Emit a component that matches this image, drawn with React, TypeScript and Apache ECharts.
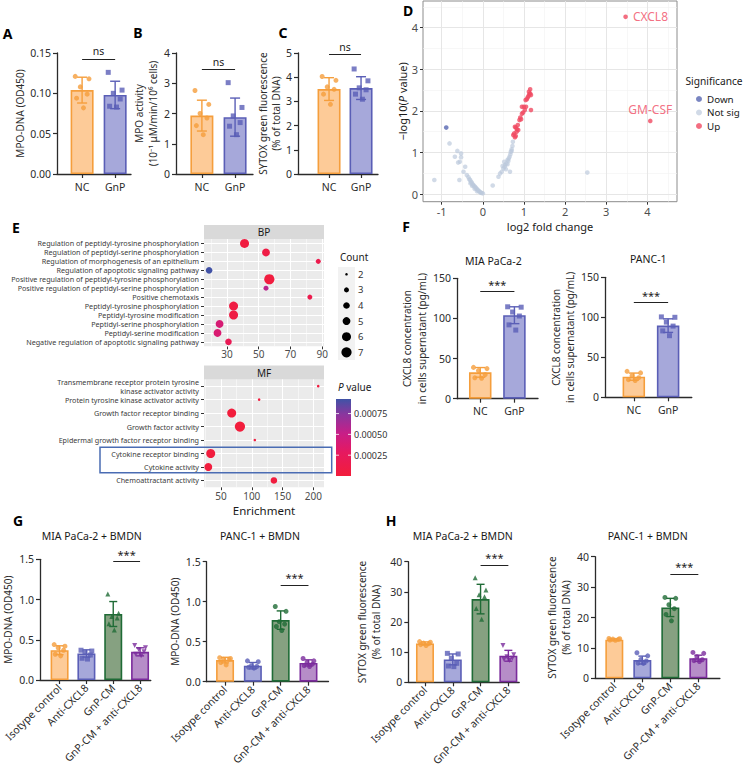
import React, { useEffect, useRef } from "react";
import * as echarts from "echarts";

const FONT = "'Noto Sans', 'Open Sans', 'DejaVu Sans', sans-serif";
const AXIS = "#2b2b2b";
const TXT = "#2b2b2b";

// ---------------- Panels A–C ----------------
const NC_GNP = ["NC", "GnP"];
const A_MEAN = [0.104, 0.098];
const A_SD = [0.016, 0.017];
const A_NC = [0.121, 0.118, 0.108, 0.099, 0.094, 0.082];
const A_GNP = [0.126, 0.104, 0.1, 0.093, 0.084, 0.083];

const B_MEAN = [1.93, 1.88];
const B_SD = [0.51, 0.63];
const B_NC = [2.76, 2.3, 2.0, 1.85, 1.6, 1.3];
const B_GNP = [3.02, 2.2, 1.92, 1.7, 1.58, 1.3];

const C_MEAN = [3.51, 3.55];
const C_SD = [0.47, 0.47];
const C_NC = [4.03, 3.87, 3.6, 3.5, 3.3, 2.88];
const C_GNP = [4.34, 3.85, 3.56, 3.48, 3.3, 3.09];

// ---------------- Panel D (volcano) ----------------
const VOLC_X_TICKS = [-1, 0, 1, 2, 3, 4];
const VOLC_Y_TICKS = [0, 1, 2, 3, 4];
const VOLC_X_MINOR = [-0.5, 0.5, 1.5, 2.5, 3.5, 4.5];
const VOLC_Y_MINOR = [0.5, 1.5, 2.5, 3.5, 4.5];
const DOWN_PTS = [[-0.89, 1.6]];
const NOT_SIG_PTS = [
  [-1.18, 0.34], [-0.81, 1.22], [-0.62, 1.04], [-0.53, 0.98], [-0.68, 0.9], [-0.53, 0.89],
  [-0.56, 0.78], [-0.6, 0.76], [-0.43, 0.66], [-0.47, 0.54], [-0.57, 0.34], [-0.39, 0.46],
  [-0.35, 0.41], [-0.33, 0.36], [-0.31, 0.34], [-0.29, 0.3], [-0.27, 0.28], [-0.25, 0.24],
  [-0.23, 0.22], [-0.21, 0.19], [-0.19, 0.18], [-0.17, 0.15], [-0.15, 0.13], [-0.13, 0.11],
  [-0.11, 0.09], [-0.09, 0.07], [-0.07, 0.05], [-0.05, 0.04], [-0.03, 0.03], [0.0, 0.02],
  [-0.3, 0.26], [-0.26, 0.2], [-0.2, 0.13], [-0.14, 0.07],
  [0.24, 0.21], [0.38, 0.42], [0.42, 0.5], [0.46, 0.54], [0.5, 0.62], [0.53, 0.66],
  [0.54, 0.7], [0.57, 0.74], [0.6, 0.82], [0.62, 0.8], [0.63, 0.86], [0.65, 0.9],
  [0.67, 0.96], [0.68, 1.02], [0.7, 1.04], [0.7, 1.08], [0.72, 1.16], [0.73, 1.26],
  [0.66, 0.54], [0.56, 0.6], [0.48, 0.68], [0.6, 0.72], [0.52, 0.78], [2.54, 0.52]
];
const UP_PTS = [
  [0.74, 1.42], [0.76, 1.46], [0.78, 1.37], [0.8, 1.4], [0.82, 1.5], [0.78, 1.62],
  [0.8, 1.6], [0.83, 1.56], [0.86, 1.54], [0.85, 1.66], [0.89, 1.78], [0.91, 1.84],
  [0.93, 1.8], [0.95, 1.93], [0.98, 1.96], [0.95, 2.1], [1.0, 2.1], [1.02, 2.02],
  [1.05, 2.1], [1.04, 2.26], [1.07, 2.28], [1.09, 2.32], [1.11, 2.36], [1.13, 2.4],
  [1.15, 2.42], [1.12, 2.46], [1.15, 2.52], [1.17, 2.38], [1.17, 2.02]
];
const LABELLED_GENES = ["CXCL8", "GM-CSF"];
const LABELLED_PTS = [[3.47, 4.26], [4.07, 1.76]];

// ---------------- Panel E (GO enrichment) ----------------
const BP_TERMS = [
  "Regulation of peptidyl-tyrosine phosphorylation",
  "Regulation of peptidyl-serine phosphorylation",
  "Regulation of morphogenesis of an epithelium",
  "Regulation of apoptotic signaling pathway",
  "Positive regulation of peptidyl-tyrosine phosphorylation",
  "Positive regulation of peptidyl-serine phosphorylation",
  "Positive chemotaxis",
  "Peptidyl-tyrosine phosphorylation",
  "Peptidyl-tyrosine modification",
  "Peptidyl-serine phosphorylation",
  "Peptidyl-serine modification",
  "Negative regulation of apoptotic signaling pathway"
];
const BP_ENRICH = [41.1, 54.6, 87.5, 18.8, 56.7, 54.6, 82.2, 34.2, 34.2, 25.4, 24.1, 31.0];
const BP_P = [0.00004, 0.00008, 0.00014, 0.00092, 0.00003, 0.00056, 0.00014, 0.00006, 0.00007, 0.0004, 0.00038, 0.0002];
const BP_COUNT = [6, 5, 3, 4, 7, 3, 3, 6, 6, 5, 5, 4];
const BP_X_TICKS = [30, 50, 70, 90];
const BP_X_MINOR = [20, 40, 60, 80];

const MF_TERMS = [
  "Transmembrane receptor protein tyrosine\nkinase activator activity",
  "Protein tyrosine kinase activator activity",
  "Growth factor receptor binding",
  "Growth factor activity",
  "Epidermal growth factor receptor binding",
  "Cytokine receptor binding",
  "Cytokine activity",
  "Chemoattractant activity"
];
const MF_ENRICH = [208, 112, 67.4, 80.8, 105, 33.3, 29.4, 136];
const MF_P = [0.00003, 0.00003, 0.00001, 0.00001, 0.00003, 0.00002, 0.00002, 0.00003];
const MF_COUNT = [2, 2, 6, 7, 2, 6, 5, 4];
const MF_X_TICKS = [50, 100, 150, 200];
const MF_X_MINOR = [25, 75, 125, 175];

const COUNT_LEVELS = [2, 3, 4, 5, 6, 7];
const P_MIN = 0;
const P_MAX = 0.000925;
const P_TICKS = [0.00025, 0.0005, 0.00075];
const P_TICK_LABELS = ["0.00025", "0.00050", "0.00075"];

// ---------------- Panel F ----------------
const F_MIA_MEAN = [32.8, 104];
const F_MIA_SD = [6.0, 10.5];
const F_MIA_NC = [39, 37.5, 35, 30, 26, 25.5];
const F_MIA_GNP = [114.5, 114, 108, 103, 92, 85.5];
const F_PANC_MEAN = [25.8, 89.6];
const F_PANC_SD = [4.5, 8.5];
const F_PANC_NC = [32.5, 30.5, 27, 24.5, 22, 21];
const F_PANC_GNP = [100.5, 100, 94, 89, 83, 77];

// ---------------- Panels G, H ----------------
const TREATMENTS = ["Isotype control", "Anti-CXCL8", "GnP-CM", "GnP-CM + anti-CXCL8"];
const G_MIA_MEAN = [0.37, 0.33, 0.82, 0.35];
const G_MIA_SD = [0.055, 0.045, 0.155, 0.05];
const G_MIA_PTS = [
  [0.44, 0.42, 0.4, 0.37, 0.32, 0.3],
  [0.37, 0.36, 0.34, 0.31, 0.27, 0.26],
  [1.07, 0.83, 0.79, 0.77, 0.7, 0.62],
  [0.43, 0.4, 0.38, 0.35, 0.32, 0.3]
];
const G_PANC_MEAN = [0.27, 0.2, 0.77, 0.235];
const G_PANC_SD = [0.035, 0.04, 0.115, 0.038];
const G_PANC_PTS = [
  [0.3, 0.29, 0.28, 0.28, 0.24, 0.21],
  [0.26, 0.25, 0.2, 0.19, 0.18, 0.17],
  [0.94, 0.88, 0.75, 0.72, 0.69, 0.64],
  [0.29, 0.26, 0.24, 0.22, 0.2, 0.19]
];
const H_MIA_MEAN = [12.9, 7.6, 27.6, 8.8];
const H_MIA_SD = [0.5, 1.8, 4.9, 1.8];
const H_MIA_PTS = [
  [13.5, 13.3, 13.0, 12.8, 12.5, 12.2],
  [9.6, 9.4, 8.0, 6.3, 5.4, 5.2],
  [34.7, 30.6, 29.0, 28.4, 24.5, 20.9],
  [12.2, 9.1, 8.5, 8.0, 7.6, 7.2]
];
const H_PANC_MEAN = [12.7, 6.0, 23.3, 6.6];
const H_PANC_SD = [0.25, 1.3, 3.0, 1.0];
const H_PANC_PTS = [
  [13.1, 13.0, 12.9, 12.8, 12.6, 12.5],
  [8.4, 7.4, 6.2, 5.7, 5.0, 4.9],
  [26.6, 26.3, 24.2, 22.9, 21.0, 18.9],
  [8.5, 8.2, 7.1, 6.1, 5.8, 5.5]
];

// ---------------- styles ----------------
const ORANGE = { fill: "#FDCB98", stroke: "#F59E3C" };
const BLUE = { fill: "#A6A8DA", stroke: "#5A5EB6" };
const GREEN = { fill: "#86A181", stroke: "#1F6B36" };
const PURPLE = { fill: "#B68DC8", stroke: "#7B2C9C" };
const JITTER = [-0.3, 0.3, -0.08, 0.22, -0.24, 0.06];
const COUNT_SIZE: Record<number, number> = { 2: 2.6, 3: 5, 4: 6.6, 5: 7.9, 6: 9, 7: 10.2 };
const P_STOPS: [number, string][] = [
  [0, "#F21D3B"], [0.3, "#E6195F"], [0.55, "#C81E87"], [0.8, "#8A369E"], [1, "#3F53A6"]
];

function hex(h: string) {
  return [parseInt(h.slice(1, 3), 16), parseInt(h.slice(3, 5), 16), parseInt(h.slice(5, 7), 16)];
}
function pColor(p: number) {
  const t = Math.max(0, Math.min(1, (p - P_MIN) / (P_MAX - P_MIN)));
  for (let i = 1; i < P_STOPS.length; i++) {
    if (t <= P_STOPS[i][0]) {
      const [t0, c0] = P_STOPS[i - 1];
      const [t1, c1] = P_STOPS[i];
      const f = (t - t0) / (t1 - t0);
      const a = hex(c0), b = hex(c1);
      const c = a.map((v, k) => Math.round(v + (b[k] - v) * f));
      return `rgb(${c[0]},${c[1]},${c[2]})`;
    }
  }
  return P_STOPS[P_STOPS.length - 1][1];
}

type BarSpec = {
  cats: string[];
  means: number[];
  sds: number[];
  points: number[][];
  colors: { fill: string; stroke: string }[];
  symbols: string[];
  ymax: number;
  yint: number;
  ydec: number;
  yname: string;
  sig: { from: number; to: number; y: number; text: string };
};
type BarLayout = {
  left: number; top: number; width: number; height: number;
  xmin: number; xmax: number; barWidth: number; cap: number;
  nameGap: number; lineHeight: number; rotate?: number; labelMargin: number;
  sigSize: number;
};

function buildOption() {
  const grid: any[] = [];
  const xAxis: any[] = [];
  const yAxis: any[] = [];
  const series: any[] = [];
  const graphic: any[] = [];

  const txt = (text: string, x: number, y: number, size: number, extra: any = {}) =>
    graphic.push({
      type: "text", x, y, silent: true,
      style: { text, fontSize: size, fontFamily: FONT, fill: "#1a1a1a", align: "center", verticalAlign: "middle", ...extra }
    });

  const addBar = (p: BarSpec, L: BarLayout) => {
    const gi = grid.length;
    grid.push({ left: L.left, top: L.top, width: L.width, height: L.height });
    const ticks = p.cats.map((_, i) => i + 1);
    xAxis.push({
      gridIndex: gi, type: "value", min: L.xmin, max: L.xmax,
      axisLine: { show: true, onZero: false, lineStyle: { color: AXIS, width: 1.3 } },
      axisTick: { show: true, customValues: ticks, length: 4, lineStyle: { color: AXIS, width: 1.2 } },
      axisLabel: {
        customValues: ticks, formatter: (v: number) => p.cats[Math.round(v) - 1] ?? "",
        rotate: L.rotate || 0, fontSize: 10.5, color: TXT, fontFamily: FONT, margin: L.labelMargin
      },
      splitLine: { show: false }
    });
    yAxis.push({
      gridIndex: gi, type: "value", min: 0, max: p.ymax, interval: p.yint,
      axisLine: { show: true, onZero: false, lineStyle: { color: AXIS, width: 1.3 } },
      axisTick: { show: true, length: 4, lineStyle: { color: AXIS, width: 1.2 } },
      axisLabel: { fontSize: 10.5, color: TXT, fontFamily: FONT, margin: 6, formatter: (v: number) => v.toFixed(p.ydec) },
      splitLine: { show: false },
      name: p.yname, nameLocation: "middle", nameGap: L.nameGap,
      nameTextStyle: { fontSize: 10, color: TXT, fontFamily: FONT, lineHeight: L.lineHeight }
    });
    series.push({
      type: "bar", xAxisIndex: gi, yAxisIndex: gi, barWidth: L.barWidth, z: 2,
      data: p.means.map((m, i) => ({
        value: [i + 1, m],
        itemStyle: { color: p.colors[i].fill, borderColor: p.colors[i].stroke, borderWidth: 1.6 }
      })),
      markLine: {
        silent: true, symbol: ["none", "none"], animation: false,
        lineStyle: { color: "#222", width: 1, type: "solid" },
        label: { show: true, position: "middle", formatter: p.sig.text, fontSize: L.sigSize, color: "#222", fontFamily: FONT, distance: 2 },
        data: [[{ coord: [p.sig.from, p.sig.y] }, { coord: [p.sig.to, p.sig.y] }]]
      }
    });
    const colors = p.colors.map((c) => c.stroke);
    series.push({
      type: "custom", xAxisIndex: gi, yAxisIndex: gi, z: 4,
      data: p.means.map((m, i) => [i + 1, m, p.sds[i]]),
      encode: { x: 0, y: 1 },
      renderItem: (params: any, api: any) => {
        const x = api.value(0), m = api.value(1), s = api.value(2);
        const top = api.coord([x, m + s]);
        const bot = api.coord([x, m - s]);
        const st = { stroke: colors[params.dataIndex], lineWidth: 1.4 };
        return {
          type: "group",
          children: [
            { type: "line", shape: { x1: top[0], y1: top[1], x2: bot[0], y2: bot[1] }, style: st },
            { type: "line", shape: { x1: top[0] - L.cap, y1: top[1], x2: top[0] + L.cap, y2: top[1] }, style: st },
            { type: "line", shape: { x1: bot[0] - L.cap, y1: bot[1], x2: bot[0] + L.cap, y2: bot[1] }, style: st }
          ]
        };
      }
    });
    const pts: any[] = [];
    p.points.forEach((arr, g) => {
      arr.forEach((v, k) => {
        const sym = p.symbols[g];
        pts.push({
          value: [g + 1, v],
          symbol: sym === "invtriangle" ? "triangle" : sym,
          symbolRotate: sym === "invtriangle" ? 180 : 0,
          symbolOffset: [JITTER[k % JITTER.length] * L.barWidth, 0],
          itemStyle: { color: p.colors[g].stroke }
        });
      });
    });
    series.push({ type: "scatter", xAxisIndex: gi, yAxisIndex: gi, z: 3, symbolSize: 5, data: pts });
  };

  // ----- A, B, C -----
  const twoColors = [ORANGE, BLUE];
  addBar(
    { cats: NC_GNP, means: A_MEAN, sds: A_SD, points: [A_NC, A_GNP], colors: twoColors, symbols: ["circle", "rect"],
      ymax: 0.15, yint: 0.05, ydec: 2, yname: "MPO-DNA (OD450)", sig: { from: 1, to: 2, y: 0.1426, text: "ns" } },
    { left: 57, top: 53, width: 74, height: 121, xmin: 0.24, xmax: 2.48, barWidth: 23, cap: 5, nameGap: 30, lineHeight: 13, labelMargin: 7, sigSize: 10.5 }
  );
  addBar(
    { cats: NC_GNP, means: B_MEAN, sds: B_SD, points: [B_NC, B_GNP], colors: twoColors, symbols: ["circle", "rect"],
      ymax: 4, yint: 1, ydec: 0, yname: "MPO activity\n(10\u207B\u00B9 \u03BCM/min/10\u2076 cells)", sig: { from: 1, to: 2, y: 3.47, text: "ns" } },
    { left: 176, top: 53, width: 77, height: 121, xmin: 0.22, xmax: 2.54, barWidth: 23, cap: 5, nameGap: 13, lineHeight: 14, labelMargin: 7, sigSize: 10.5 }
  );
  addBar(
    { cats: NC_GNP, means: C_MEAN, sds: C_SD, points: [C_NC, C_GNP], colors: twoColors, symbols: ["circle", "rect"],
      ymax: 5, yint: 1, ydec: 0, yname: "SYTOX green fluorescence\n(% of total DNA)", sig: { from: 1, to: 2, y: 4.95, text: "ns" } },
    { left: 298, top: 53, width: 80, height: 121, xmin: 0.03, xmax: 2.53, barWidth: 23, cap: 5, nameGap: 9, lineHeight: 13, labelMargin: 7, sigSize: 10.5 }
  );

  // ----- F -----
  addBar(
    { cats: NC_GNP, means: F_MIA_MEAN, sds: F_MIA_SD, points: [F_MIA_NC, F_MIA_GNP], colors: twoColors, symbols: ["circle", "rect"],
      ymax: 150, yint: 50, ydec: 0, yname: "CXCL8 concentration\nin cells supernatant (pg/mL)", sig: { from: 1, to: 2, y: 133.3, text: "***" } },
    { left: 457, top: 278.3, width: 81, height: 120.4, xmin: 0.32, xmax: 2.69, barWidth: 22.5, cap: 5, nameGap: 27, lineHeight: 14.4, labelMargin: 7, sigSize: 11 }
  );
  addBar(
    { cats: NC_GNP, means: F_PANC_MEAN, sds: F_PANC_SD, points: [F_PANC_NC, F_PANC_GNP], colors: twoColors, symbols: ["circle", "rect"],
      ymax: 150, yint: 50, ydec: 0, yname: "CXCL8 concentration\nin cells supernatant (pg/mL)", sig: { from: 1, to: 2, y: 118.2, text: "***" } },
    { left: 605, top: 277.3, width: 86.8, height: 120, xmin: 0.16, xmax: 2.69, barWidth: 22.5, cap: 5, nameGap: 21, lineHeight: 14, labelMargin: 7, sigSize: 11 }
  );

  // ----- G, H -----
  const fourColors = [ORANGE, BLUE, GREEN, PURPLE];
  addBar(
    { cats: TREATMENTS, means: G_MIA_MEAN, sds: G_MIA_SD, points: G_MIA_PTS, colors: fourColors,
      symbols: ["circle", "rect", "triangle", "invtriangle"], ymax: 1.5, yint: 0.5, ydec: 1,
      yname: "MPO-DNA (OD450)", sig: { from: 3, to: 4, y: 1.47, text: "***" } },
    { left: 36, top: 559.3, width: 114.8, height: 120.7, xmin: 0.27, xmax: 4.4, barWidth: 18, cap: 4, nameGap: 26, lineHeight: 13, rotate: 45, labelMargin: 6, sigSize: 11 }
  );
  addBar(
    { cats: TREATMENTS, means: G_PANC_MEAN, sds: G_PANC_SD, points: G_PANC_PTS, colors: fourColors,
      symbols: ["circle", "circle", "circle", "circle"], ymax: 1.5, yint: 0.5, ydec: 1,
      yname: "MPO-DNA (OD450)", sig: { from: 3, to: 4, y: 1.21, text: "***" } },
    { left: 206.7, top: 561.7, width: 121.8, height: 120, xmin: 0.34, xmax: 4.72, barWidth: 18, cap: 4, nameGap: 25, lineHeight: 13, rotate: 45, labelMargin: 6, sigSize: 11 }
  );
  addBar(
    { cats: TREATMENTS, means: H_MIA_MEAN, sds: H_MIA_SD, points: H_MIA_PTS, colors: fourColors,
      symbols: ["circle", "rect", "triangle", "invtriangle"], ymax: 40, yint: 10, ydec: 0,
      yname: "SYTOX green fluorescence\n(% of total DNA)", sig: { from: 3, to: 4, y: 38.9, text: "***" } },
    { left: 408.3, top: 561.7, width: 110.9, height: 120.6, xmin: 0.4, xmax: 4.39, barWidth: 18, cap: 4, nameGap: 25, lineHeight: 14.3, rotate: 45, labelMargin: 6, sigSize: 11 }
  );
  addBar(
    { cats: TREATMENTS, means: H_PANC_MEAN, sds: H_PANC_SD, points: H_PANC_PTS, colors: fourColors,
      symbols: ["circle", "circle", "circle", "circle"], ymax: 40, yint: 10, ydec: 0,
      yname: "SYTOX green fluorescence\n(% of total DNA)", sig: { from: 3, to: 4, y: 34.3, text: "***" } },
    { left: 595, top: 556.7, width: 124.9, height: 121.6, xmin: 0.31, xmax: 4.77, barWidth: 18, cap: 4, nameGap: 20, lineHeight: 14, rotate: 45, labelMargin: 6, sigSize: 11 }
  );

  // ----- D volcano -----
  {
    const gi = grid.length;
    grid.push({ left: 423, top: 1, width: 254, height: 200.7, show: true, backgroundColor: "#fff", borderColor: "#8c8c8c", borderWidth: 1 });
    xAxis.push({
      gridIndex: gi, type: "value", min: -1.455, max: 4.72,
      axisLine: { show: false, onZero: false },
      axisTick: { show: true, customValues: VOLC_X_TICKS, length: 3, lineStyle: { color: "#333" } },
      axisLabel: { customValues: VOLC_X_TICKS, fontSize: 11, color: "#4d4d4d", fontFamily: FONT, margin: 4 },
      splitLine: { show: false },
      name: "log2 fold change", nameLocation: "middle", nameGap: 19,
      nameTextStyle: { fontSize: 11, color: "#1a1a1a", fontFamily: FONT }
    });
    yAxis.push({
      gridIndex: gi, type: "value", min: -0.18, max: 4.64,
      axisLine: { show: false, onZero: false },
      axisTick: { show: true, customValues: VOLC_Y_TICKS, length: 3, lineStyle: { color: "#333" } },
      axisLabel: { customValues: VOLC_Y_TICKS, fontSize: 11, color: "#4d4d4d", fontFamily: FONT, margin: 5 },
      splitLine: { show: false },
      name: "{n|\u2212log10(}{i|P}{n| value)}", nameLocation: "middle", nameGap: 14,
      nameTextStyle: {
        fontSize: 11, color: "#1a1a1a", fontFamily: FONT,
        rich: { n: { fontSize: 11, fontFamily: FONT, color: "#1a1a1a" }, i: { fontSize: 11, fontFamily: FONT, fontStyle: "italic", color: "#1a1a1a" } }
      }
    });
    const gridLines = [
      ...VOLC_X_MINOR.map((v) => ({ xAxis: v, lineStyle: { color: "#f2f2f2", width: 0.6 } })),
      ...VOLC_Y_MINOR.map((v) => ({ yAxis: v, lineStyle: { color: "#f2f2f2", width: 0.6 } })),
      ...VOLC_X_TICKS.map((v) => ({ xAxis: v, lineStyle: { color: "#e6e6e6", width: 1 } })),
      ...VOLC_Y_TICKS.map((v) => ({ yAxis: v, lineStyle: { color: "#e6e6e6", width: 1 } }))
    ];
    series.push({
      type: "scatter", name: "grid-d", xAxisIndex: gi, yAxisIndex: gi, z: 1, data: [],
      markLine: { silent: true, z: 1, symbol: ["none", "none"], label: { show: false }, animation: false, lineStyle: { type: "solid" }, data: gridLines }
    });
    series.push({ type: "scatter", name: "Not sig", xAxisIndex: gi, yAxisIndex: gi, z: 3, symbolSize: 4.6, itemStyle: { color: "rgba(187,201,220,0.85)" }, data: NOT_SIG_PTS });
    series.push({ type: "scatter", name: "Down", xAxisIndex: gi, yAxisIndex: gi, z: 4, symbolSize: 4.6, itemStyle: { color: "#5766B2" }, data: DOWN_PTS });
    series.push({
      type: "scatter", name: "Up", xAxisIndex: gi, yAxisIndex: gi, z: 4, symbolSize: 4.6, itemStyle: { color: "#F04A62" },
      data: [
        ...UP_PTS,
        ...LABELLED_PTS.map((pt, i) => ({
          value: pt, name: LABELLED_GENES[i],
          label: {
            show: true, formatter: "{b}", position: i === 0 ? "right" : "top", distance: i === 0 ? 5 : 3,
            color: "#F04A62", fontSize: 12, fontFamily: FONT
          }
        }))
      ]
    });
  }

  // ----- E dot plots -----
  const addDot = (terms: string[], enrich: number[], pv: number[], counts: number[], top: number, height: number,
    xmin: number, xmax: number, ticks: number[], minor: number[], withName: boolean, labelMargin: number) => {
    const gi = grid.length;
    grid.push({ left: 204, top, width: 120, height, show: true, backgroundColor: "#EBEBEB", borderWidth: 0 });
    xAxis.push({
      gridIndex: gi, type: "value", min: xmin, max: xmax,
      axisLine: { show: false, onZero: false },
      axisTick: { show: true, customValues: ticks, length: 3, lineStyle: { color: "#333" } },
      axisLabel: { customValues: ticks, fontSize: 10, color: "#4d4d4d", fontFamily: FONT, margin: labelMargin },
      splitLine: { show: false },
      ...(withName ? { name: "Enrichment", nameLocation: "middle", nameGap: 17, nameTextStyle: { fontSize: 11.5, color: "#1a1a1a", fontFamily: FONT } } : {})
    });
    yAxis.push({
      gridIndex: gi, type: "category", data: terms, inverse: true,
      axisLine: { show: false, onZero: false },
      axisTick: { show: true, alignWithLabel: true, length: 3, lineStyle: { color: "#333" } },
      axisLabel: { fontSize: 7.2, color: "#3a3a3a", fontFamily: FONT, margin: 5, lineHeight: 9, interval: 0 },
      splitLine: { show: false }
    });
    const lines = [
      ...minor.map((v) => ({ xAxis: v, lineStyle: { color: "#fff", width: 0.5 } })),
      ...ticks.map((v) => ({ xAxis: v, lineStyle: { color: "#fff", width: 1 } })),
      ...terms.map((t) => ({ yAxis: t, lineStyle: { color: "#fff", width: 1 } }))
    ];
    series.push({
      type: "scatter", name: "grid-e" + gi, xAxisIndex: gi, yAxisIndex: gi, z: 1, data: [],
      markLine: { silent: true, z: 1, symbol: ["none", "none"], label: { show: false }, animation: false, lineStyle: { type: "solid" }, data: lines }
    });
    series.push({
      type: "scatter", xAxisIndex: gi, yAxisIndex: gi, z: 3,
      data: terms.map((t, i) => [enrich[i], t, pv[i], counts[i]]),
      encode: { x: 0, y: 1 },
      symbolSize: (v: any) => COUNT_SIZE[v[3]] || 4,
      itemStyle: { color: (p: any) => pColor(p.value[2]), opacity: 1 }
    });
  };
  addDot(BP_TERMS, BP_ENRICH, BP_P, BP_COUNT, 239, 107.3, 15.6, 91.1, BP_X_TICKS, BP_X_MINOR, false, 3);
  addDot(MF_TERMS, MF_ENRICH, MF_P, MF_COUNT, 379.4, 107.8, 22.4, 217.4, MF_X_TICKS, MF_X_MINOR, true, 4);

  // strips
  graphic.push({ type: "rect", shape: { x: 204, y: 225, width: 120, height: 14 }, style: { fill: "#D9D9D9" }, silent: true });
  graphic.push({ type: "rect", shape: { x: 204, y: 365.4, width: 120, height: 14 }, style: { fill: "#D9D9D9" }, silent: true });
  txt("BP", 264, 232.2, 10, { fill: "#1a1a1a" });
  txt("MF", 264, 372.6, 10, { fill: "#1a1a1a" });
  // highlight box
  graphic.push({ type: "rect", shape: { x: 100, y: 447.3, width: 231.7, height: 25.4 }, style: { fill: "none", stroke: "#4A6CB3", lineWidth: 1.5 }, silent: true, z: 10 });

  // Count legend
  txt("Count", 340, 256.7, 10, { align: "left" });
  graphic.push({ type: "rect", shape: { x: 338, y: 267, width: 17, height: 93 }, style: { fill: "#F2F2F2" }, silent: true });
  COUNT_LEVELS.forEach((c, i) => {
    const y = 274.3 + i * 15.6;
    graphic.push({ type: "circle", shape: { cx: 346.5, cy: y, r: COUNT_SIZE[c] / 2 }, style: { fill: "#000" }, silent: true });
    txt(String(c), 358, y, 9.5, { align: "left", fill: "#333" });
  });

  // P value colourbar
  const CB = { x: 336, y: 399, w: 15, h: 77 };
  graphic.push({
    type: "text", x: 338, y: 387, silent: true,
    style: { text: "{i|P} value", fontSize: 10, fontFamily: FONT, fill: "#1a1a1a", align: "left", verticalAlign: "middle",
      rich: { i: { fontStyle: "italic", fontSize: 10, fontFamily: FONT, fill: "#1a1a1a" } } }
  });
  graphic.push({
    type: "rect", shape: { x: CB.x, y: CB.y, width: CB.w, height: CB.h }, silent: true,
    style: {
      fill: new echarts.graphic.LinearGradient(0, 0, 0, 1,
        P_STOPS.slice().reverse().map(([t, c]) => ({ offset: 1 - t, color: c })))
    }
  });
  P_TICKS.forEach((p, i) => {
    const y = CB.y + CB.h * (1 - (p - P_MIN) / (P_MAX - P_MIN));
    graphic.push({ type: "line", shape: { x1: CB.x, y1: y, x2: CB.x + 3, y2: y }, style: { stroke: "#fff", lineWidth: 0.8 }, silent: true });
    graphic.push({ type: "line", shape: { x1: CB.x + CB.w - 3, y1: y, x2: CB.x + CB.w, y2: y }, style: { stroke: "#fff", lineWidth: 0.8 }, silent: true });
    txt(P_TICK_LABELS[i], 354, y, 9, { align: "left", fill: "#333" });
  });

  // Volcano legend title
  txt("Significance", 685.5, 80.5, 10.2, { align: "left" });

  // subplot titles
  txt("MIA PaCa-2", 493.3, 260.7, 10.5);
  txt("PANC-1", 648.3, 259.3, 10.5);
  txt("MIA PaCa-2 + BMDN", 91.7, 536, 10.5);
  txt("PANC-1 + BMDN", 260, 536, 10.5);
  txt("MIA PaCa-2 + BMDN", 462.7, 535.7, 10.5);
  txt("PANC-1 + BMDN", 647.7, 535.7, 10.5);

  // panel letters
  const letters: [string, number, number][] = [
    ["A", 7.5, 33], ["B", 138, 32.5], ["C", 283, 32.5], ["D", 408, 10], ["E", 16, 227],
    ["F", 406, 226], ["G", 18, 520], ["H", 391, 520]
  ];
  letters.forEach(([l, x, y]) => txt(l, x, y, 14, { fontWeight: "bold", fill: "#000" }));

  return {
    animation: false,
    backgroundColor: "#fff",
    textStyle: { fontFamily: FONT },
    grid, xAxis, yAxis, series, graphic,
    legend: {
      data: ["Down", "Not sig", "Up"], orient: "vertical", left: 691, top: 89,
      icon: "circle", itemWidth: 6, itemHeight: 6, itemGap: 3.5, selectedMode: false,
      textStyle: { fontSize: 9.8, color: "#1a1a1a", fontFamily: FONT, lineHeight: 10 }
    }
  };
}

export default function App() {
  const ref = useRef<HTMLDivElement>(null);
  useEffect(() => {
    const chart = echarts.init(ref.current!, null, { renderer: "svg" });
    chart.setOption(buildOption() as any);
    return () => chart.dispose();
  }, []);
  return (
    <div
      ref={ref}
      style={{ position: "absolute", left: 0, top: 0, width: 743, height: 774, background: "#fff" }}
    />
  );
}
